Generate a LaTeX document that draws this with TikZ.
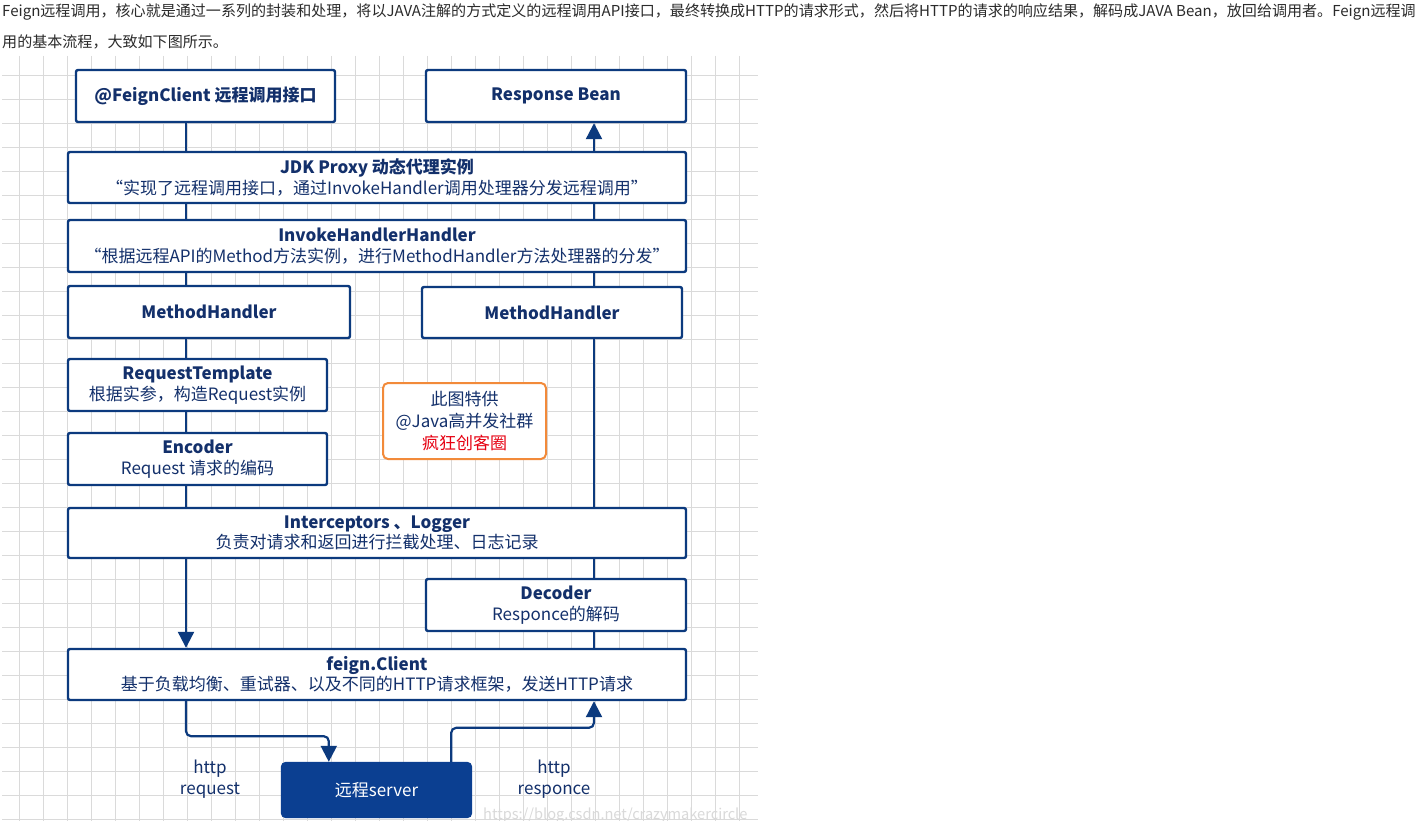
\documentclass[tikz,border=0pt]{standalone}
\usepackage{fontspec}
\setmainfont{Noto Sans CJK SC}
\usetikzlibrary{arrows.meta,calc}
\definecolor{ink}{HTML}{13306B}
\definecolor{navy}{HTML}{0C3A7E}
\definecolor{srvblue}{HTML}{0B3F91}
\definecolor{gridgray}{HTML}{DADADA}
\definecolor{notecol}{HTML}{F28A3A}
\definecolor{para}{HTML}{2B2B2B}
\definecolor{redmark}{HTML}{E60012}

\begin{document}
\begin{tikzpicture}[x=1pt,y=-1pt,>={Triangle[length=16pt,width=16pt]},
  box/.style={draw=navy,line width=2.4pt,fill=white,rounded corners=2pt,
    text=ink,align=center,inner sep=0pt,font=\fontsize{17}{20.5}\selectfont},
  flow/.style={navy,line width=2.2pt,rounded corners=5pt},
  lbl/.style={text=ink,align=center,font=\fontsize{17}{21}\selectfont}]
  \useasboundingbox (0,0) rectangle (1418,821);
  \fill[white] (0,0) rectangle (1418,821);

  \node[anchor=west,text=para,inner sep=0pt,font=\fontsize{15.05}{17}\selectfont] (intro1) at (2,12)
    {Feign远程调用，核心就是通过一系列的封装和处理，将以JAVA注解的方式定义的远程调用API接口，最终转换成HTTP的请求形式，然后将HTTP的请求的响应结果，解码成JAVA Bean，放回给调用者。Feign远程调};
  \node[anchor=west,text=para,inner sep=0pt,font=\fontsize{15.05}{17}\selectfont] (intro2) at (2,42)
    {用的基本流程，大致如下图所示。};

  \foreach \gx in {0,...,30}
    \draw[gridgray,line width=1pt] ({19.3+24*\gx},56) -- ({19.3+24*\gx},821);
  \foreach \gy in {0,...,31}
    \draw[gridgray,line width=1pt] (2,{75.3+24*\gy}) -- (758,{75.3+24*\gy});

  \coordinate (sl) at (186,0);
  \coordinate (sr) at (594,0);

  \node[box,minimum width=259pt,minimum height=52pt] (iface) at (205.5,96)
    {\bfseries @FeignClient 远程调用接口};
  \node[box,minimum width=260pt,minimum height=52pt] (resp) at (556,96)
    {\bfseries Response Bean};
  \node[box,minimum width=618pt,minimum height=51pt] (proxy) at (377,177.5)
    {{\bfseries JDK Proxy 动态代理实例}\\“实现了远程调用接口，通过InvokeHandler调用处理器分发远程调用”};
  \node[box,minimum width=618pt,minimum height=52pt] (invoke) at (377,246)
    {{\bfseries InvokeHandlerHandler}\\“根据远程API的Method方法实例，进行MethodHandler方法处理器的分发”};
  \node[box,minimum width=282pt,minimum height=52pt] (mhl) at (209,312)
    {\bfseries MethodHandler};
  \node[box,minimum width=260pt,minimum height=51pt] (mhr) at (552,312.5)
    {\bfseries MethodHandler};
  \node[box,minimum width=259pt,minimum height=52pt] (reqtpl) at (197.5,385)
    {{\bfseries RequestTemplate}\\根据实参，构造Request实例};
  \node[box,minimum width=259pt,minimum height=52pt] (encoder) at (197.5,459)
    {{\bfseries Encoder}\\Request 请求的编码};
  \node[box,minimum width=618pt,minimum height=50pt] (intercept) at (377,533)
    {{\bfseries Interceptors 、Logger}\\负责对请求和返回进行拦截处理、日志记录};
  \node[box,minimum width=260pt,minimum height=52pt] (decoder) at (556,605)
    {{\bfseries Decoder}\\Responce的解码};
  \node[box,minimum width=618pt,minimum height=51pt] (client) at (377,674.5)
    {{\bfseries feign.Client}\\基于负载均衡、重试器、以及不同的HTTP请求框架，发送HTTP请求};
  \node[box,draw=srvblue,fill=srvblue,text=white,rounded corners=4pt,
        minimum width=189pt,minimum height=54pt] (server) at (376.5,790)
    {远程server};
  \node[box,draw=notecol,line width=2pt,rounded corners=5pt,
        font=\fontsize{17}{22}\selectfont,minimum width=163pt,minimum height=76pt] (note) at (464.5,421)
    {此图特供\\@Java高并发社群\\\textcolor{redmark}{疯狂创客圈}};

  \draw[flow] (iface.south -| sl) -- (proxy.north -| sl);
  \draw[flow] (proxy.south -| sl) -- (invoke.north -| sl);
  \draw[flow] (invoke.south -| sl) -- (mhl.north -| sl);
  \draw[flow] (mhl.south -| sl) -- (reqtpl.north -| sl);
  \draw[flow] (reqtpl.south -| sl) -- (encoder.north -| sl);
  \draw[flow] (encoder.south -| sl) -- (intercept.north -| sl);
  \draw[flow,->] (intercept.south -| sl) -- (client.north -| sl);
  \draw[flow,->] (client.south -| sl) -- ++(0,35) -| ($(server.north west)+(48,0)$);
  \draw[flow,->] ($(server.north east)+(-21,0)$) -- ++(0,-34) -| (client.south -| sr);
  \draw[flow] (client.north -| sr) -- (decoder.south -| sr);
  \draw[flow] (decoder.north -| sr) -- (intercept.south -| sr);
  \draw[flow] (intercept.north -| sr) -- (mhr.south -| sr);
  \draw[flow] (mhr.north -| sr) -- (invoke.south -| sr);
  \draw[flow] (invoke.north -| sr) -- (proxy.south -| sr);
  \draw[flow,->] (proxy.north -| sr) -- (resp.south -| sr);

  \node[lbl] (reqlbl) at (210,779.5) {http\\request};
  \node[lbl] (resplbl) at (554,779.5) {http\\responce};
  \node[anchor=west,text=gray!30,inner sep=0pt,font=\fontsize{14.6}{17}\selectfont] (wmark) at (483,816)
    {https://blog.csdn.net/crazymakercircle};
\end{tikzpicture}
\end{document}
